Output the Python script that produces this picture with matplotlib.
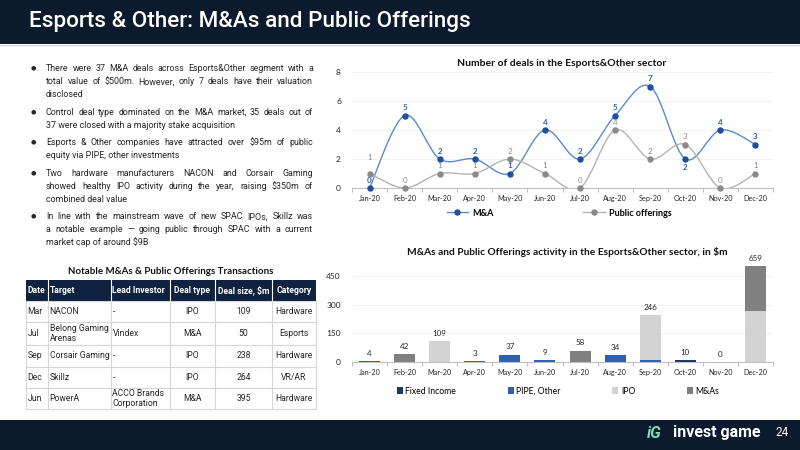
import matplotlib.pyplot as plt
import numpy as np
from matplotlib.patches import Rectangle, PathPatch
from matplotlib.path import Path
from matplotlib.lines import Line2D

plt.rcParams['font.family'] = ['Lato', 'DejaVu Sans']

# ---- data
months = ['Jan-20', 'Feb-20', 'Mar-20', 'Apr-20', 'May-20', 'Jun-20',
          'Jul-20', 'Aug-20', 'Sep-20', 'Oct-20', 'Nov-20', 'Dec-20']
ma_deals = [0, 5, 2, 2, 1, 4, 2, 5, 7, 2, 4, 3]
po_deals = [1, 0, 1, 1, 2, 1, 0, 4, 2, 3, 0, 1]
deal_ticks = [0, 2, 4, 6, 8]

fixed_income = [0, 0, 0, 0, 0, 0, 0, 0, 0, 10, 0, 0]
pipe_other = [4, 0, 0, 3, 37, 9, 0, 34, 8, 0, 0, 0]
ipo = [0, 0, 109, 0, 0, 0, 0, 0, 238, 0, 0, 264]
ma_value = [0, 42, 0, 0, 0, 0, 58, 0, 0, 0, 0, 395]
value_ticks = [0, 150, 300, 450]
value_max = 500

table_header = ['Date', 'Target', 'Lead Investor', 'Deal type', 'Deal size, $m', 'Category']
table_rows = [
    ['Mar', 'NACON', '-', 'IPO', '109', 'Hardware'],
    ['Jul', 'Belong Gaming\nArenas', 'Vindex', 'M&A', '50', 'Esports'],
    ['Sep', 'Corsair Gaming', '-', 'IPO', '238', 'Hardware'],
    ['Dec', 'Skillz', '-', 'IPO', '264', 'VR/AR'],
    ['Jun', 'PowerA', 'ACCO Brands\nCorporation', 'M&A', '395', 'Hardware'],
]

bullets = [
    ['There were 37 M&A deals across Esports&Other segment with a',
     'total value of $500m. However, only 7 deals have their valuation',
     'disclosed'],
    ['Control deal type dominated on the M&A market, 35 deals out of',
     '37 were closed with a majority stake acquisition'],
    ['Esports & Other companies have attracted over $95m of public',
     'equity via PIPE, other investments'],
    ['Two hardware manufacturers NACON and Corsair Gaming',
     'showed healthy IPO activity during the year, raising $350m of',
     'combined deal value'],
    ['In line with the mainstream wave of new SPAC IPOs, Skillz was',
     'a notable example \u2014 going public through SPAC with a current',
     'market cap of around $9B'],
]

NAVY = '#0b1a2c'
ROBOTO = ['Roboto', 'DejaVu Sans']
W, H = 800, 450

fig = plt.figure(figsize=(8, 4.5), dpi=100)


def box(x0, y0, x1, y1):
    # pixel box (top-left origin) -> figure fraction rect
    return [x0 / W, 1 - y1 / H, (x1 - x0) / W, (y1 - y0) / H]


bg = fig.add_axes([0, 0, 1, 1])
bg.set_xlim(0, W)
bg.set_ylim(H, 0)
bg.axis('off')

# header / footer
bg.add_patch(Rectangle((0, 0), W, 44, color=NAVY, lw=0))
bg.plot([0, W], [45, 45], color='#c9ced6', lw=0.8)
bg.text(29, 22, 'Esports & Other: M&As and Public Offerings', color='white',
        fontsize=16.2, fontweight='medium', family=ROBOTO, va='center')
bg.add_patch(Rectangle((0, 420), W, 30, color=NAVY, lw=0))
bg.text(647, 433, 'iG', color='#7fdcb4', fontsize=11.5, fontweight='bold',
        fontstyle='italic', family=ROBOTO, va='center')
bg.text(673, 433, 'invest game', color='white', fontsize=11.5, fontweight='bold',
        family=ROBOTO, va='center')
bg.text(775, 433, '24', color='white', fontsize=8.5, family=ROBOTO, va='center')

# ---- bullet text (justified)
renderer = fig.canvas.get_renderer()
text_kw = dict(fontsize=6.4, family=ROBOTO, color='#262626', va='baseline')
x_left, x_right = 46, 313
y = 68
for para in bullets:
    bg.text(31, y, '\u25cf', fontsize=4.5, color='#262626', va='center',
            family=['DejaVu Sans'])
    for k, line in enumerate(para):
        base = y + 3.2
        if k == len(para) - 1:
            bg.text(x_left, base, line, **text_kw)
        else:
            words = line.split(' ')
            ts = [bg.text(0, base, w_, **text_kw) for w_ in words]
            widths = [t.get_window_extent(renderer=renderer).width for t in ts]
            gap = (x_right - x_left - sum(widths)) / (len(words) - 1)
            xx = x_left
            for t, wd in zip(ts, widths):
                t.set_x(xx)
                xx += wd + gap
        y += 13.0
    y += 4.5

# ---- table
col_x = [26, 48, 111, 170, 215, 272, 316]
row_y = [280, 301, 322, 345, 367, 388, 409]
aligns = ['left', 'left', 'left', 'center', 'center', 'center']
bg.text(171, 272, 'Notable M&As & Public Offerings Transactions', fontsize=7,
        fontweight='bold', ha='center', va='center', color='#111111')
bg.add_patch(Rectangle((col_x[0], row_y[0]), col_x[-1] - col_x[0],
                       row_y[1] - row_y[0], color='#0f2240', lw=0))


def cell_text(r, c, s, **kw):
    x0, x1 = col_x[c], col_x[c + 1]
    yc = (row_y[r] + row_y[r + 1]) / 2
    if aligns[c] == 'left':
        bg.text(x0 + 1.5, yc, s, ha='left', va='center', family=ROBOTO,
                linespacing=1.05, **kw)
    else:
        bg.text((x0 + x1) / 2, yc, s, ha='center', va='center', family=ROBOTO,
                linespacing=1.05, **kw)


for c, s in enumerate(table_header):
    cell_text(0, c, s, color='white', fontsize=6.2, fontweight='bold')
for r, row in enumerate(table_rows):
    for c, s in enumerate(row):
        cell_text(r + 1, c, s, color='#262626', fontsize=6.2)

for xv in col_x:
    bg.plot([xv, xv], [row_y[1], row_y[-1]], color='#d6d6d6', lw=0.8)
for xv in col_x[1:-1]:
    bg.plot([xv, xv], [row_y[0], row_y[1]], color='white', lw=0.8)
for yv in row_y[1:]:
    bg.plot([col_x[0], col_x[-1]], [yv, yv], color='#d6d6d6', lw=0.8)

# ---- line chart: number of deals
x = np.arange(len(months))
ax1 = fig.add_axes(box(352, 72, 773, 188))
ax1.set_xlim(-0.5, 11.5)
ax1.set_ylim(0, 8)


def smooth_path(xs, ys):
    pts = np.column_stack([xs, ys]).astype(float)
    n = len(pts)
    verts = [pts[0]]
    codes = [Path.MOVETO]
    for i in range(n - 1):
        p0 = pts[i - 1] if i > 0 else pts[i]
        p1, p2 = pts[i], pts[i + 1]
        p3 = pts[i + 2] if i + 2 < n else pts[i + 1]
        verts += [p1 + (p2 - p0) / 6, p2 - (p3 - p1) / 6, p2]
        codes += [Path.CURVE4] * 3
    return Path(verts, codes)


series = [
    (ma_deals, '#5b8ad0', '#1f4f9e', '#2f5fae', 'M&A'),
    (po_deals, '#b3b3b3', '#8a8a8a', '#8a8a8a', 'Public offerings'),
]
for vals, lc, mc, tc, name in series:
    ax1.add_patch(PathPatch(smooth_path(x, vals), fill=False, ec=lc, lw=1.0, zorder=2))
    ax1.plot(x, vals, ls='none', marker='o', ms=3.6, color=mc, zorder=3, clip_on=False)
    for i, v in enumerate(vals):
        off = 3
        if name == 'M&A' and i == 9:
            off = -9
        if name == 'Public offerings' and i == 0:
            off = 9
        ax1.annotate(str(v), (i, v), xytext=(0, off), textcoords='offset points',
                     ha='center', va='bottom', fontsize=5.8, color=tc,
                     fontweight='bold' if name == 'M&A' else 'normal',
                     annotation_clip=False)

for sp in ['top', 'right', 'left']:
    ax1.spines[sp].set_visible(False)
ax1.spines['bottom'].set_color('#bfbfbf')
ax1.spines['bottom'].set_linewidth(0.8)
ax1.set_xticks(x)
ax1.set_xticklabels(months)
ax1.set_xticks(np.arange(-0.5, 12, 1), minor=True)
ax1.tick_params(axis='x', which='major', length=0, labelsize=5.2, pad=5, labelcolor='#262626')
ax1.tick_params(axis='x', which='minor', length=3, color='#bfbfbf', width=0.8)
ax1.set_yticks(deal_ticks)
ax1.tick_params(axis='y', length=0, labelsize=6, pad=8, labelcolor='#262626')
ax1.yaxis.grid(True, color='#f0f0f0', lw=0.6)
ax1.set_axisbelow(True)

fig.text(562 / W, 1 - 64 / H, 'Number of deals in the Esports&Other sector',
         ha='center', va='center', fontsize=7.5, fontweight='bold', color='#111111')

h1 = [Line2D([0], [0], color=s[1], marker='o', mfc=s[2], mec=s[2], ms=3.6, lw=1.0)
      for s in series]
ax1.legend(h1, [s[4] for s in series], loc='center', ncol=2, frameon=False,
           bbox_to_anchor=(559 / W, 1 - 213 / H), bbox_transform=fig.transFigure,
           prop={'size': 6.5, 'weight': 'bold'}, handlelength=2.4,
           handletextpad=0.4, columnspacing=10)

# ---- stacked bar chart: deal value
ax2 = fig.add_axes(box(352, 266.4, 773, 361.7))
ax2.set_xlim(-0.5, 11.5)
ax2.set_ylim(0, value_max)
stack = [
    (fixed_income, '#1f3864', 'Fixed Income'),
    (pipe_other, '#2f5fae', 'PIPE, Other'),
    (ipo, '#d3d3d3', 'IPO'),
    (ma_value, '#808080', 'M&As'),
]
bottom = np.zeros(len(months))
for vals, col, name in stack:
    ax2.bar(x, vals, bottom=bottom, width=0.6, color=col, label=name, zorder=2)
    bottom += np.array(vals)
for i, t in enumerate(bottom):
    ax2.annotate(f'{int(t)}', (i, min(t, value_max)), xytext=(0, 3),
                 textcoords='offset points', ha='center', va='bottom',
                 fontsize=5.8, color='#262626', annotation_clip=False)

for sp in ['top', 'right', 'left']:
    ax2.spines[sp].set_visible(False)
ax2.spines['bottom'].set_color('#bfbfbf')
ax2.spines['bottom'].set_linewidth(0.8)
ax2.set_xticks(x)
ax2.set_xticklabels(months)
ax2.set_xticks(np.arange(-0.5, 12, 1), minor=True)
ax2.tick_params(axis='x', which='major', length=0, labelsize=5.2, pad=5, labelcolor='#262626')
ax2.tick_params(axis='x', which='minor', length=3, color='#bfbfbf', width=0.8)
ax2.set_yticks(value_ticks)
ax2.tick_params(axis='y', length=0, labelsize=6, pad=8, labelcolor='#262626')
ax2.yaxis.grid(True, color='#f0f0f0', lw=0.6)
ax2.set_axisbelow(True)

fig.text(567 / W, 1 - 252 / H,
         'M&As and Public Offerings activity in the Esports&Other sector, in $m',
         ha='center', va='center', fontsize=7.25, fontweight='bold', color='#111111')

ax2.legend(loc='center', ncol=4, frameon=False,
           bbox_to_anchor=(558 / W, 1 - 391 / H), bbox_transform=fig.transFigure,
           fontsize=6.2, handlelength=0.7, handleheight=0.7,
           handletextpad=0.3, columnspacing=6)

fig.savefig('out.png', dpi=100)
